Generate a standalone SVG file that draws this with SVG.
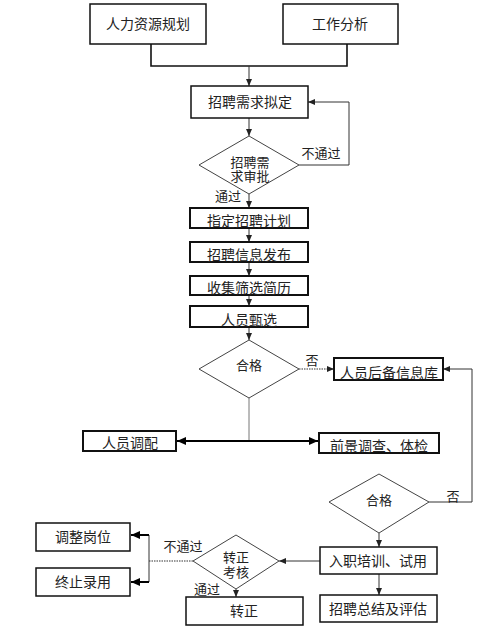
<svg xmlns="http://www.w3.org/2000/svg" width="480" height="627" viewBox="0 0 480 627">
<style>
text{font-family:"Liberation Serif","Noto Sans CJK SC",serif;font-size:14px;fill:#222;text-anchor:middle}
.lbl{font-size:13px}
.box{fill:#fff;stroke:#111;stroke-width:1.5}
.sbox{fill:#fff;stroke:#111;stroke-width:2}
.dia{fill:#fff;stroke:#444;stroke-width:1}
.ln{fill:none;stroke:#333;stroke-width:1}
.bold{fill:none;stroke:#000;stroke-width:2}
.dot{fill:none;stroke:#333;stroke-width:1.2;stroke-dasharray:1.5 1}
</style>
<defs>
<marker id="a" markerUnits="userSpaceOnUse" markerWidth="8" markerHeight="8" refX="7" refY="3" orient="auto"><path d="M0,0 L7,3 L0,6 z" fill="#222"/></marker>
<marker id="b" markerUnits="userSpaceOnUse" markerWidth="10" markerHeight="10" refX="9" refY="4" orient="auto-start-reverse"><path d="M0,0 L9,4 L0,8 z" fill="#000"/></marker>
</defs>
<rect width="480" height="627" fill="#fff"/>
<g id="connectors">
<polyline points="151,44 151,66 347,66 347,44" style="fill:none;stroke:#111;stroke-width:1.6"/>
<line class="ln" x1="249" y1="66" x2="249" y2="86" marker-end="url(#a)"/>
<line class="ln" x1="249" y1="118" x2="249" y2="136" marker-end="url(#a)"/>
<polyline class="ln" points="299,165 349,165 349,102 308,102" marker-end="url(#a)"/>
<line class="ln" x1="249" y1="194" x2="249" y2="208" marker-end="url(#a)"/>
<line class="ln" x1="249" y1="228" x2="249" y2="242" marker-end="url(#a)"/>
<line class="ln" x1="249" y1="262" x2="249" y2="276" marker-end="url(#a)"/>
<line class="ln" x1="249" y1="295" x2="249" y2="306" marker-end="url(#a)"/>
<line class="ln" x1="249" y1="327" x2="249" y2="340" marker-end="url(#a)"/>
<line class="dot" x1="299" y1="369" x2="334" y2="369" marker-end="url(#a)"/>
<line class="ln" x1="249" y1="398" x2="249" y2="441" style="stroke:#777"/>
<line class="bold" x1="177" y1="441" x2="318" y2="441" marker-start="url(#b)" marker-end="url(#b)"/>
<polyline class="ln" points="429,502 472,502 472,369 443,369" marker-end="url(#a)"/>
<line class="ln" x1="379" y1="533" x2="379" y2="547" marker-end="url(#a)"/>
<line class="ln" x1="379" y1="574" x2="379" y2="595" marker-end="url(#a)"/>
<line class="ln" x1="320" y1="561" x2="279" y2="561" marker-end="url(#a)"/>
<line class="dot" x1="193" y1="561" x2="149" y2="561"/>
<line class="ln" x1="149" y1="535" x2="149" y2="582"/>
<line class="bold" x1="149" y1="535" x2="131" y2="535" marker-end="url(#b)"/>
<line class="bold" x1="149" y1="582" x2="131" y2="582" marker-end="url(#b)"/>
<line class="ln" x1="236" y1="589" x2="236" y2="597" marker-end="url(#a)"/>
<text class="lbl" x="321" y="158">不通过</text>
<text class="lbl" x="228" y="201">通过</text>
<text class="lbl" x="312" y="365">否</text>
<text class="lbl" x="453" y="501">否</text>
<text class="lbl" x="183" y="551">不通过</text>
<text class="lbl" x="207" y="594">通过</text>
</g>
<g id="n1"><rect class="box" x="90" y="4" width="116" height="40"/><text x="148" y="29">人力资源规划</text></g>
<g id="n2"><rect class="box" x="283" y="4" width="115" height="40"/><text x="340" y="29">工作分析</text></g>
<g id="n3"><rect class="box" x="191" y="86" width="117" height="32"/><text x="250" y="107">招聘需求拟定</text></g>
<g id="d1"><polygon class="dia" points="249,136 299,165 249,194 199,165"/><text class="lbl" x="250" y="167">招聘需</text><text class="lbl" x="250" y="181">求审批</text></g>
<g id="n4"><rect class="sbox" x="190" y="208" width="118" height="20"/><text x="249" y="226">指定招聘计划</text></g>
<g id="n5"><rect class="sbox" x="190" y="242" width="118" height="20"/><text x="249" y="260">招聘信息发布</text></g>
<g id="n6"><rect class="sbox" x="190" y="276" width="118" height="19"/><text x="249" y="293">收集筛选简历</text></g>
<g id="n7"><rect class="sbox" x="190" y="306" width="118" height="21"/><text x="249" y="325">人员甄选</text></g>
<g id="d2"><polygon class="dia" points="249,340 299,369 249,398 199,369"/><text class="lbl" x="249" y="370">合格</text></g>
<g id="n8"><rect class="sbox" x="334" y="358" width="109" height="22"/><text x="389" y="378">人员后备信息库</text></g>
<g id="n9"><rect class="sbox" x="83" y="431" width="93" height="20"/><text x="130" y="448">人员调配</text></g>
<g id="n10"><rect class="sbox" x="319" y="433" width="120" height="20"/><text x="379" y="451">前景调查、体检</text></g>
<g id="d3"><polygon class="dia" points="379,474 429,502 379,533 329,502"/><text class="lbl" x="379" y="505">合格</text></g>
<g id="n11"><rect class="box" x="320" y="547" width="117" height="27"/><text x="378" y="566">入职培训、试用</text></g>
<g id="n12"><rect class="box" x="320" y="595" width="117" height="27"/><text x="378" y="614">招聘总结及评估</text></g>
<g id="d4"><polygon class="dia" points="236,535 279,561 236,589 193,561"/><text class="lbl" x="236" y="562">转正</text><text class="lbl" x="236" y="577">考核</text></g>
<g id="n13"><rect class="box" x="36" y="523" width="94" height="28"/><text x="83" y="542">调整岗位</text></g>
<g id="n14"><rect class="box" x="36" y="568" width="94" height="28"/><text x="83" y="587">终止录用</text></g>
<g id="n15"><rect class="box" x="186" y="597" width="117" height="28"/><text x="244" y="616">转正</text></g>
</svg>
